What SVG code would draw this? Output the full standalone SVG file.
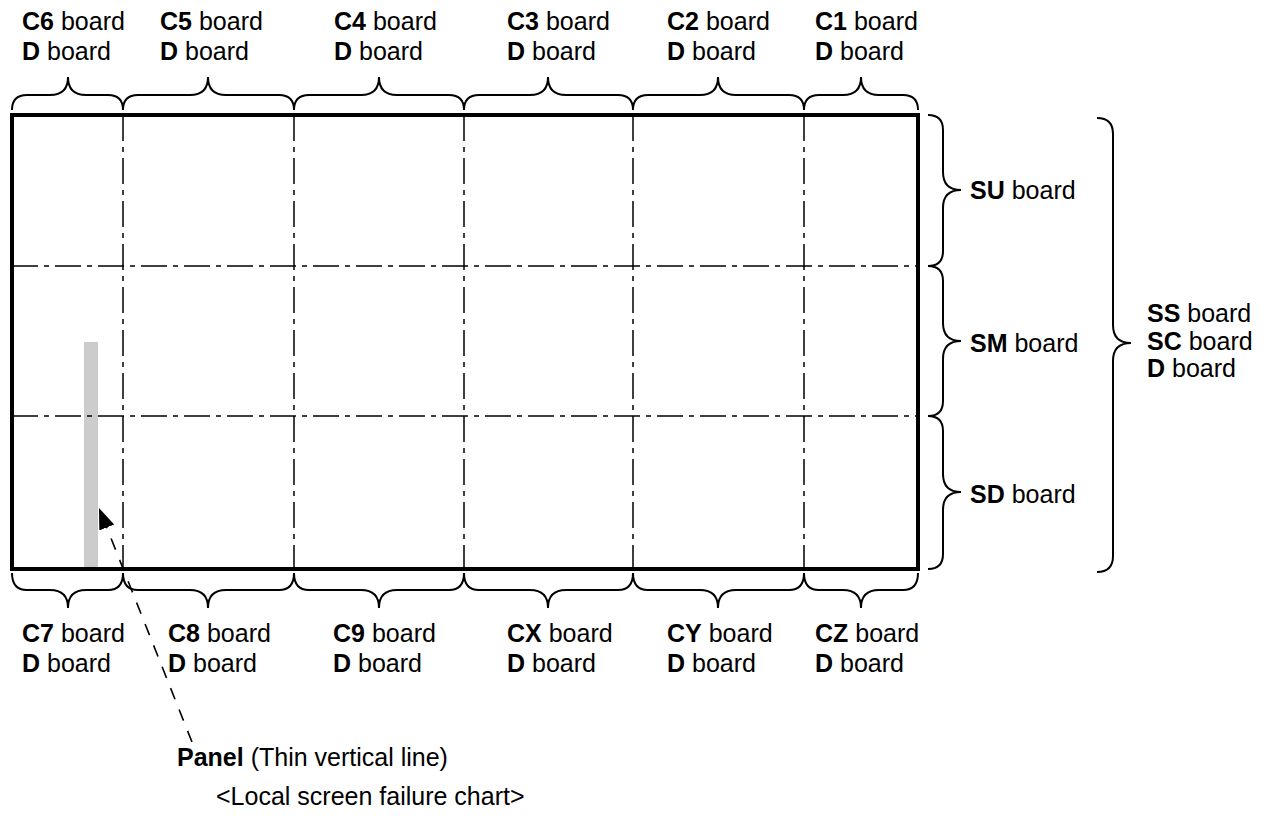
<svg xmlns="http://www.w3.org/2000/svg" width="1275" height="828" viewBox="0 0 1275 828">
  <style>
    text { font-family: "Liberation Sans", Arial, sans-serif; font-size: 25px; fill: #000; }
    .b { font-weight: bold; }
    .brace { fill: none; stroke: #000; stroke-width: 2; }
    .grid { fill: none; stroke: #000; stroke-width: 1.5; stroke-dasharray: 26 6 5 6; }
    .frame { fill: none; stroke: #000; stroke-width: 4; }
    .lead { fill: none; stroke: #000; stroke-width: 1.6; stroke-dasharray: 12 11; }
  </style>
  <defs>
    <marker id="arrow" markerUnits="userSpaceOnUse" markerWidth="24" markerHeight="18" refX="21" refY="8" orient="auto">
      <path d="M0,0 L21,8 L0,16 Z" fill="#000"/>
    </marker>
  </defs>

  <!-- screen area -->
  <g id="screen">
    <rect x="84" y="342" width="14" height="226" fill="#cccccc"/>
    <g class="grid">
      <line x1="123" y1="115" x2="123" y2="569"/>
      <line x1="294" y1="115" x2="294" y2="569"/>
      <line x1="464" y1="115" x2="464" y2="569"/>
      <line x1="633" y1="115" x2="633" y2="569"/>
      <line x1="804" y1="115" x2="804" y2="569"/>
      <line x1="12" y1="266" x2="918" y2="266"/>
      <line x1="12" y1="416" x2="918" y2="416"/>
    </g>
    <rect class="frame" x="12" y="115" width="906" height="454"/>
  </g>

  <!-- column braces, top -->
  <g id="braces-top" class="brace">
    <path d="M12,110 Q12,95 27,95 H50 Q68,95 68,77 Q68,95 86,95 H108 Q123,95 123,110"/>
    <path d="M123,110 Q123,95 138,95 H190 Q208,95 208,77 Q208,95 226,95 H279 Q294,95 294,110"/>
    <path d="M294,110 Q294,95 309,95 H361 Q379,95 379,77 Q379,95 397,95 H449 Q464,95 464,110"/>
    <path d="M464,110 Q464,95 479,95 H530 Q548,95 548,77 Q548,95 566,95 H618 Q633,95 633,110"/>
    <path d="M633,110 Q633,95 648,95 H700 Q718,95 718,77 Q718,95 736,95 H789 Q804,95 804,110"/>
    <path d="M804,110 Q804,95 819,95 H843 Q861,95 861,77 Q861,95 879,95 H903 Q918,95 918,110"/>
  </g>

  <!-- column braces, bottom -->
  <g id="braces-bottom" class="brace">
    <path d="M12,573 Q12,590 27,590 H50 Q68,590 68,608 Q68,590 86,590 H108 Q123,590 123,573"/>
    <path d="M123,573 Q123,590 138,590 H190 Q208,590 208,608 Q208,590 226,590 H279 Q294,590 294,573"/>
    <path d="M294,573 Q294,590 309,590 H361 Q379,590 379,608 Q379,590 397,590 H449 Q464,590 464,573"/>
    <path d="M464,573 Q464,590 479,590 H530 Q548,590 548,608 Q548,590 566,590 H618 Q633,590 633,573"/>
    <path d="M633,573 Q633,590 648,590 H700 Q718,590 718,608 Q718,590 736,590 H789 Q804,590 804,573"/>
    <path d="M804,573 Q804,590 819,590 H843 Q861,590 861,608 Q861,590 879,590 H903 Q918,590 918,573"/>
  </g>

  <!-- row braces, right -->
  <g id="braces-right" class="brace">
    <path d="M928,115 Q943,115 943,130 V172 Q943,190 961,190 Q943,190 943,208 V251 Q943,266 928,266"/>
    <path d="M928,266 Q943,266 943,281 V323 Q943,341 961,341 Q943,341 943,359 V401 Q943,416 928,416"/>
    <path d="M928,416 Q943,416 943,431 V474 Q943,492 961,492 Q943,492 943,510 V554 Q943,569 928,569"/>
    <path d="M1097,118 Q1113,118 1113,134 V325 Q1113,343 1131,343 Q1113,343 1113,361 V556 Q1113,572 1097,572"/>
  </g>

  <!-- leader to the panel line -->
  <g id="connectors">
    <line class="lead" x1="192" y1="742" x2="99" y2="508" marker-end="url(#arrow)"/>
  </g>

  <!-- labels -->
  <g id="labels-top">
    <text x="22" y="30"><tspan class="b">C6</tspan> board</text>
    <text x="22" y="60"><tspan class="b">D</tspan> board</text>
    <text x="160" y="30"><tspan class="b">C5</tspan> board</text>
    <text x="160" y="60"><tspan class="b">D</tspan> board</text>
    <text x="334" y="30"><tspan class="b">C4</tspan> board</text>
    <text x="334" y="60"><tspan class="b">D</tspan> board</text>
    <text x="507" y="30"><tspan class="b">C3</tspan> board</text>
    <text x="507" y="60"><tspan class="b">D</tspan> board</text>
    <text x="667" y="30"><tspan class="b">C2</tspan> board</text>
    <text x="667" y="60"><tspan class="b">D</tspan> board</text>
    <text x="815" y="30"><tspan class="b">C1</tspan> board</text>
    <text x="815" y="60"><tspan class="b">D</tspan> board</text>
  </g>
  <g id="labels-bottom">
    <text x="22" y="642"><tspan class="b">C7</tspan> board</text>
    <text x="22" y="672"><tspan class="b">D</tspan> board</text>
    <text x="168" y="642"><tspan class="b">C8</tspan> board</text>
    <text x="168" y="672"><tspan class="b">D</tspan> board</text>
    <text x="333" y="642"><tspan class="b">C9</tspan> board</text>
    <text x="333" y="672"><tspan class="b">D</tspan> board</text>
    <text x="507" y="642"><tspan class="b">CX</tspan> board</text>
    <text x="507" y="672"><tspan class="b">D</tspan> board</text>
    <text x="667" y="642"><tspan class="b">CY</tspan> board</text>
    <text x="667" y="672"><tspan class="b">D</tspan> board</text>
    <text x="815" y="642"><tspan class="b">CZ</tspan> board</text>
    <text x="815" y="672"><tspan class="b">D</tspan> board</text>
  </g>
  <g id="labels-right">
    <text x="970" y="199"><tspan class="b">SU</tspan> board</text>
    <text x="970" y="352"><tspan class="b">SM</tspan> board</text>
    <text x="970" y="503"><tspan class="b">SD</tspan> board</text>
    <text x="1147" y="322"><tspan class="b">SS</tspan> board</text>
    <text x="1147" y="350"><tspan class="b">SC</tspan> board</text>
    <text x="1147" y="377"><tspan class="b">D</tspan> board</text>
  </g>
  <g id="panel-note">
    <text x="177" y="766"><tspan class="b">Panel</tspan> (Thin vertical line)</text>
  </g>
  <g id="caption">
    <text x="216" y="805">&lt;Local screen failure chart&gt;</text>
  </g>
</svg>
